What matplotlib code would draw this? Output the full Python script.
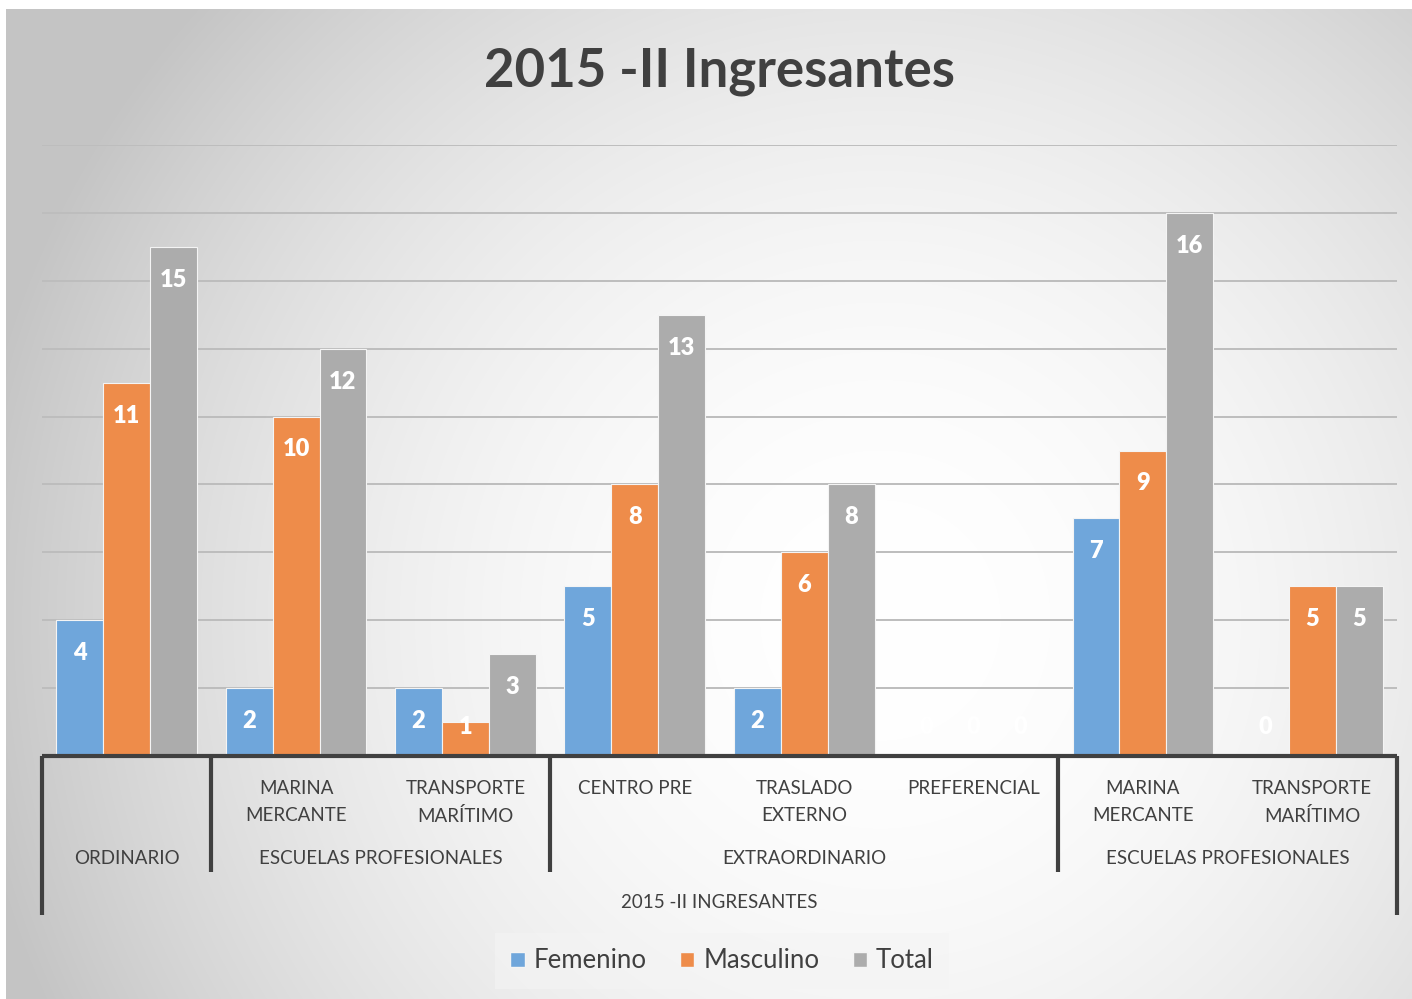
import numpy as np
import matplotlib.pyplot as plt
from matplotlib.patches import Patch

# -- Data ----------------------------------------------------------------------

sub_labels = ["", "MARINA\nMERCANTE", "TRANSPORTE\nMARÍTIMO", "CENTRO PRE",
              "TRASLADO\nEXTERNO", "PREFERENCIAL", "MARINA\nMERCANTE",
              "TRANSPORTE\nMARÍTIMO"]
group_labels = ["ORDINARIO", "ESCUELAS PROFESIONALES", "EXTRAORDINARIO",
                "ESCUELAS PROFESIONALES"]
group_sizes = [1, 2, 3, 2]
top_label = "2015 -II INGRESANTES"

femenino = [4, 2, 2, 5, 2, 0, 7, 0]
masculino = [11, 10, 1, 8, 6, 0, 9, 5]
total = [15, 12, 3, 13, 8, 0, 16, 5]

series = ["Femenino", "Masculino", "Total"]
colors = ["#6fa6db", "#ee8c4a", "#acacac"]

TXT = "#404040"
FONT = "Lato"
plt.rcParams["font.family"] = [FONT, "DejaVu Sans"]

W, H = 1412, 999
fig = plt.figure(figsize=(W / 100, H / 100), dpi=100)
fig.patch.set_facecolor("white")

# -- Radial gradient background ------------------------------------------------

bg = fig.add_axes([6 / W, 0, 1 - 6 / W, 1 - 9 / H])
yy, xx = np.mgrid[9:H, 6:W]
d = np.hypot(xx - 880, (yy - 620) * 1.0)
shade = np.clip(1 - 0.22 * (d / 900) ** 2, 0.77, 1.0)
bg.imshow(np.dstack([shade] * 3), aspect="auto", interpolation="bilinear")
bg.set_axis_off()
bg.set_zorder(-5)

# -- Plot area -----------------------------------------------------------------

L, R, T, B = 42, 1397, 145, 756
ax = fig.add_axes([L / W, 1 - B / H, (R - L) / W, (B - T) / H])
ax.patch.set_alpha(0)
ax.set_xlim(0, 8)
ax.set_ylim(0, 18)
for s in ax.spines.values():
    s.set_visible(False)
ax.set_yticks(np.arange(2, 19, 2))
ax.set_xticks([])
ax.tick_params(left=False, labelleft=False)
ax.grid(axis="y", color="#bdbdbd", linewidth=1.4)
ax.set_axisbelow(True)

x = np.arange(8) + 0.5
step = 0.277
for k, (vals, col) in enumerate(zip([femenino, masculino, total], colors)):
    xs = x + (k - 1) * step
    ax.bar(xs, vals, width=step, color=col, edgecolor="#f4f4f4",
           linewidth=0.8, zorder=3)
    for xi, v in zip(xs, vals):
        ax.text(xi, max(v - 0.97, 0.85), str(v), ha="center", va="center",
                color="white", fontsize=17, fontweight="heavy", zorder=4)

# -- Multi-level category axis -------------------------------------------------

ph = B - T
def below(px):
    return -(px - B) / ph

tr = ax.get_xaxis_transform()
ax.plot([0, 8], [0, 0], transform=tr, color=TXT, lw=3, clip_on=False,
        solid_capstyle="butt", zorder=5)
bounds = np.concatenate([[0], np.cumsum(group_sizes)])
for b in bounds:
    end = 915 if b in (0, 8) else 872
    ax.plot([b, b], [0, below(end)], transform=tr, color=TXT, lw=3,
            clip_on=False, solid_capstyle="butt", zorder=5)

for xi, lab in zip(x, sub_labels):
    ax.text(xi, below(780), lab, transform=tr, ha="center", va="top",
            fontsize=13.5, color=TXT, linespacing=1.7)
for b0, b1, lab in zip(bounds[:-1], bounds[1:], group_labels):
    ax.text((b0 + b1) / 2, below(858), lab, transform=tr, ha="center",
            va="center", fontsize=13.5, color=TXT)
ax.text(4, below(902), top_label, transform=tr, ha="center", va="center",
        fontsize=13.5, color=TXT)

# -- Title and legend ----------------------------------------------------------

fig.text(720 / W, 1 - 72 / H, "2015 -II Ingresantes", ha="center",
         va="center", fontsize=38, fontweight="bold", color=TXT)

handles = [Patch(facecolor=c, edgecolor="#f4f4f4") for c in colors]
leg = fig.legend(handles, series, loc="center", ncol=3,
                 bbox_to_anchor=(722 / W, 1 - 961 / H), fontsize=18.5,
                 frameon=True, handlelength=0.55, handleheight=0.55,
                 handletextpad=0.35, columnspacing=1.3, borderpad=0.6,
                 fancybox=False)
leg.get_frame().set_facecolor("#f4f4f4")
leg.get_frame().set_alpha(0.6)
leg.get_frame().set_edgecolor("none")
for t in leg.get_texts():
    t.set_color(TXT)

fig.savefig("out.png", dpi=100)
